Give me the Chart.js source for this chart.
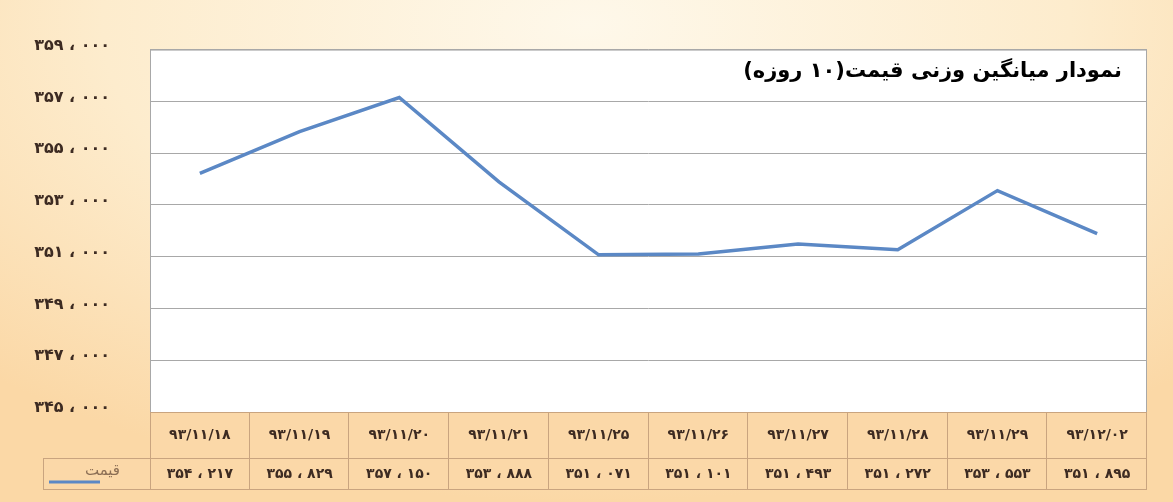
<!DOCTYPE html>
<html lang="fa">
<head>
<meta charset="utf-8">
<title>نمودار میانگین وزنی قیمت</title>
<script src="https://cdn.jsdelivr.net/npm/chart.js@4.4.1/dist/chart.umd.min.js"></script>
<style>
  html, body { margin: 0; padding: 0; }
  body {
    width: 1173px; height: 502px; overflow: hidden;
    background: radial-gradient(ellipse 75% 95% at 50% 5%, #fef8ea 0%, #fdeccd 55%, #fbd8a6 100%);
  }
  #wrap { position: relative; width: 1173px; height: 502px; }
</style>
</head>
<body>
<div id="wrap"><canvas id="priceChart" width="1173" height="502"></canvas></div>
<script>
// --- data ---
const dates = ['۹۳/۱۱/۱۸', '۹۳/۱۱/۱۹', '۹۳/۱۱/۲۰', '۹۳/۱۱/۲۱', '۹۳/۱۱/۲۵',
               '۹۳/۱۱/۲۶', '۹۳/۱۱/۲۷', '۹۳/۱۱/۲۸', '۹۳/۱۱/۲۹', '۹۳/۱۲/۰۲'];
const prices = [354217, 355829, 357150, 353888, 351071, 351101, 351493, 351272, 353553, 351895];
const seriesName = 'قیمت';
const chartTitle = 'نمودار میانگین وزنی قیمت(۱۰ روزه)';
const yMin = 345000, yMax = 359000, yStep = 2000;

const FONT = '"DejaVu Sans", sans-serif';
const LINE_COLOR = '#5b88c5';

// 354217 -> "۳۵۴ ، ۲۱۷"
function toFa(n) {
    const fa = '۰۱۲۳۴۵۶۷۸۹';
    const s = String(Math.floor(n / 1000)) + ' ، ' + String(n % 1000).padStart(3, '0');
    return s.replace(/[0-9]/g, d => fa[d]);
}

// white plot area + frame + title + data table under the plot
const tablePlugin = {
    id: 'tablePlugin',
    beforeDraw(chart) {
        const { ctx, chartArea: a } = chart;
        ctx.save();
        ctx.fillStyle = '#ffffff';
        ctx.fillRect(a.left, a.top, a.right - a.left, a.bottom - a.top);
        ctx.restore();
    },
    afterDraw(chart) {
        const { ctx, chartArea: a } = chart;
        const x = chart.scales.x;
        const rowTop = a.bottom, rowMid = a.bottom + 46, rowBot = a.bottom + 77;
        const legendLeft = 43;
        const cellW = (a.right - a.left) / dates.length;

        ctx.save();
        // frame of plot
        ctx.strokeStyle = '#a8a8a8';
        ctx.lineWidth = 1;
        ctx.strokeRect(a.left + 0.5, a.top + 0.5, a.right - a.left - 1, a.bottom - a.top);

        // table fill
        ctx.fillStyle = '#fbd8a8';
        ctx.fillRect(a.left, rowTop, a.right - a.left, rowMid - rowTop);
        ctx.fillRect(legendLeft, rowMid, a.right - legendLeft, rowBot - rowMid);

        // table borders
        ctx.strokeStyle = '#c9a47f';
        ctx.beginPath();
        ctx.moveTo(a.left, rowTop + 0.5); ctx.lineTo(a.right, rowTop + 0.5);
        ctx.moveTo(legendLeft, rowMid + 0.5); ctx.lineTo(a.right, rowMid + 0.5);
        ctx.moveTo(legendLeft, rowBot + 0.5); ctx.lineTo(a.right, rowBot + 0.5);
        ctx.moveTo(legendLeft + 0.5, rowMid); ctx.lineTo(legendLeft + 0.5, rowBot);
        ctx.moveTo(a.left + 0.5, rowTop); ctx.lineTo(a.left + 0.5, rowBot);
        dates.forEach((d, i) => {
            const edge = Math.round(x.getPixelForValue(i) + cellW / 2) - 0.5;
            ctx.moveTo(edge, rowTop); ctx.lineTo(edge, rowBot);
        });
        ctx.stroke();

        // table text
        ctx.fillStyle = '#3d2b22';
        ctx.font = 'bold 14px ' + FONT;
        ctx.textAlign = 'center';
        ctx.textBaseline = 'middle';
        ctx.direction = 'ltr';
        dates.forEach((d, i) => {
            const cx = x.getPixelForValue(i);
            ctx.fillText(d, cx, (rowTop + rowMid) / 2);
            ctx.fillText(toFa(prices[i]), cx, (rowMid + rowBot) / 2 + 1);
        });

        // legend key in table
        ctx.strokeStyle = LINE_COLOR;
        ctx.lineWidth = 3;
        ctx.beginPath();
        ctx.moveTo(49, rowBot - 7); ctx.lineTo(100, rowBot - 7);
        ctx.stroke();
        ctx.fillStyle = '#8c6f55';
        ctx.font = '15px ' + FONT;
        ctx.textAlign = 'right';
        ctx.direction = 'rtl';
        ctx.fillText(seriesName, 120, rowMid + 13);

        // title
        ctx.fillStyle = '#000000';
        ctx.font = 'bold 21px ' + FONT;
        ctx.textAlign = 'right';
        ctx.direction = 'rtl';
        ctx.fillText(chartTitle, 1122, 72);
        ctx.restore();
    }
};

const ctx = document.getElementById('priceChart').getContext('2d');
new Chart(ctx, {
    type: 'line',
    data: {
        labels: dates,
        datasets: [{
            label: seriesName,
            data: prices,
            borderColor: LINE_COLOR,
            borderWidth: 3.5,
            pointRadius: 0,
            tension: 0,
            fill: false
        }]
    },
    options: {
        responsive: false,
        animation: false,
        layout: { padding: { top: 46, right: 26, bottom: 90, left: 0 } },
        plugins: { legend: { display: false }, tooltip: { enabled: false } },
        scales: {
            x: { display: false, offset: true },
            y: {
                min: yMin, max: yMax,
                afterFit: s => { s.width = 150; },
                border: { display: false },
                grid: { color: '#a8a8a8', drawTicks: false },
                ticks: {
                    stepSize: yStep,
                    padding: 40,
                    labelOffset: -4,
                    color: '#3d2b22',
                    font: { family: FONT, size: 16, weight: 'bold' },
                    callback: v => toFa(v)
                }
            }
        }
    },
    plugins: [tablePlugin]
});
</script>
</body>
</html>
